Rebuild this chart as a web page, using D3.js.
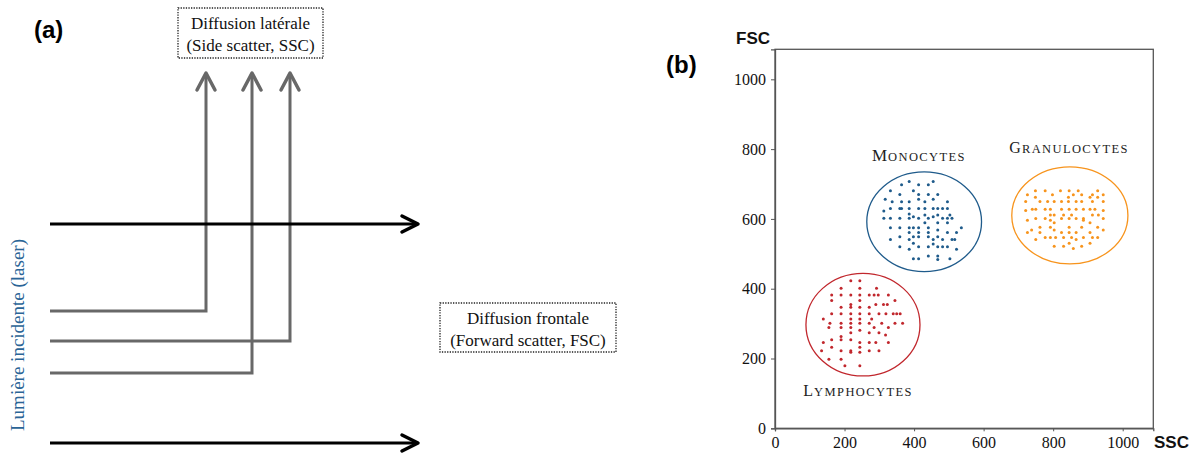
<!DOCTYPE html>
<html>
<head>
<meta charset="utf-8">
<script src="https://cdn.jsdelivr.net/npm/d3@7"></script>
<style>
  html, body { margin: 0; padding: 0; background: #fff; }
  svg { display: block; }
  .serif { font-family: "Liberation Serif", "Times New Roman", Times, serif; }
  .sans { font-family: "Liberation Sans", Arial, Helvetica, sans-serif; }
</style>
</head>
<body>
<svg id="chart" width="1197" height="454"></svg>
<script>
// ---------- DATA ----------
const xTicks = [0, 200, 400, 600, 800, 1000];
const yTicks = [0, 200, 400, 600, 800, 1000];

// [SSC, FSC]
const monocytes = [
  [364,698],[386,707],[413,698],[441,698],[455,707],
  [332,681],[359,670],[398,681],[413,670],[441,670],[468,670],
  [317,656],[337,649],[364,649],[386,649],[413,656],[431,649],[455,656],[496,649],
  [313,623],[332,630],[359,630],[364,630],[386,630],[413,630],[431,630],[455,630],[468,630],[482,630],[496,630],
  [386,614],[398,606],[431,611],[455,606],[468,611],[503,611],
  [313,602],[332,602],[359,602],[386,602],[413,602],[441,602],[482,602],[496,602],[509,602],
  [431,589],[468,589],[496,589],
  [332,575],[359,575],[386,575],[398,575],[413,575],[441,575],[536,575],[468,568],
  [386,561],[413,561],[441,561],[496,561],[522,561],
  [359,549],[398,549],[413,549],[441,549],[468,549],
  [332,541],[386,541],[455,541],[482,541],[509,541],[517,541],
  [398,530],[455,528],
  [359,520],[413,520],[441,520],[468,520],[482,520],[496,520],
  [386,513],[522,513],
  [441,494],[468,494],[468,484],
  [398,486],[413,486],[503,486]
];

const granulocytes = [
  [749,681],[777,681],[821,681],[846,681],[872,681],[928,681],
  [726,669],[798,669],[858,669],[882,669],[913,669],[944,669],
  [749,662],[844,662],[906,662],[928,662],
  [721,650],[762,650],[784,650],[803,650],[824,650],[844,650],[866,650],[882,650],[913,650],[944,650],
  [740,628],[750,628],[777,628],[792,628],[824,628],[846,628],[866,628],[887,628],[906,628],[920,628],
  [721,624],[944,624],
  [792,611],[803,611],[830,611],[853,611],[913,611],[930,611],
  [750,601],[777,601],[824,601],[846,601],[866,601],[887,601],[944,601],
  [726,596],[792,596],[887,596],
  [803,589],[906,589],
  [762,576],[792,576],[846,576],[882,576],[928,576],
  [738,568],[803,568],[944,568],
  [726,561],[762,561],[824,561],[846,561],[866,561],[906,561],
  [777,547],[792,547],[807,547],[830,547],[853,547],[887,547],[913,547],[928,547],
  [750,541],[866,541],
  [846,530],[906,530],
  [803,522],[830,522],[882,522],
  [858,515]
];

const lymphocytes = [
  [218,423],[244,423],
  [190,401],[244,401],[292,401],
  [163,382],[190,382],[218,382],[244,382],[271,382],[285,382],[297,382],[326,382],
  [163,366],[244,366],[345,366],
  [218,355],[290,355],[312,355],[323,355],
  [190,347],[218,347],[244,347],[271,347],
  [163,328],[190,328],[218,328],[244,328],[271,328],[299,328],[319,328],[340,328],[350,328],[360,328],
  [139,313],[218,313],[244,313],[278,313],
  [158,301],[190,301],[218,301],[244,301],[271,301],[307,301],[345,301],[367,301],
  [155,289],[190,289],[218,289],[285,289],[326,289],
  [244,281],
  [218,274],[271,274],[299,274],
  [318,267],[190,263],
  [163,254],[190,254],[218,254],
  [139,246],[244,246],[271,246],[290,246],[326,246],
  [163,232],[244,232],
  [134,222],[190,222],[218,222],[271,222],[299,222],
  [218,218],[244,218],
  [155,198],[190,198],
  [201,179],[244,179]
];

// ellipse centre / radii (SSC, FSC units)
const clusterNames   = ["Monocytes", "Granulocytes", "Lymphocytes"];
const clusterCenters = [[429, 592], [848, 610], [253, 297]];
const clusterRadii   = [[165, 143], [167, 139], [164, 147]];
const clusterColors  = ["#1f5b8b", "#f7941d", "#c1272d"];

// ---------- DRAW ----------
const svg = d3.select("#chart");

// ===== Panel (a): schematic =====
const a = svg.append("g");
a.append("text").attr("class", "sans").attr("x", 34).attr("y", 38)
  .attr("font-weight", "bold").attr("font-size", 24)
  .text("(a)");

const gray = "#686868";
// scattered (side) light paths: start y, corner x
const sidePaths = [[311, 206], [373, 252], [341, 290]];
sidePaths.forEach(([y0, x1]) => {
  a.append("path")
    .attr("d", `M50,${y0} H${x1} V74`)
    .attr("fill", "none").attr("stroke", gray).attr("stroke-width", 3);
  a.append("path")
    .attr("d", `M${x1 - 9},90 L${x1},73 L${x1 + 9},90`)
    .attr("fill", "none").attr("stroke", gray).attr("stroke-width", 3.5)
    .attr("stroke-linecap", "round").attr("stroke-linejoin", "round");
});

// incident / forward light (black arrows)
[224, 443].forEach(y => {
  a.append("line").attr("x1", 50).attr("x2", 416).attr("y1", y).attr("y2", y)
    .attr("stroke", "#000").attr("stroke-width", 3.2);
  a.append("path")
    .attr("d", `M402,${y - 8} L418,${y} L402,${y + 8}`)
    .attr("fill", "none").attr("stroke", "#000").attr("stroke-width", 3.5)
    .attr("stroke-linecap", "round").attr("stroke-linejoin", "round");
});

function dottedBox(x, y, w, h, lines) {
  a.append("rect").attr("x", x).attr("y", y).attr("width", w).attr("height", h)
    .attr("fill", "#fff").attr("stroke", "#222").attr("stroke-width", 1.3)
    .attr("stroke-dasharray", "1.3,1.3");
  lines.forEach((t, i) => {
    a.append("text").attr("class", "serif").attr("x", x + w / 2).attr("y", y + 21 + i * 21.5)
      .attr("text-anchor", "middle").attr("font-size", 17)
      .attr("fill", "#111").text(t);
  });
}
dottedBox(178, 8, 145, 50, ["Diffusion latérale", "(Side scatter, SSC)"]);
dottedBox(440, 303, 176, 49, ["Diffusion frontale", "(Forward scatter, FSC)"]);

a.append("text").attr("class", "serif")
  .attr("transform", "translate(24,335) rotate(-90)")
  .attr("text-anchor", "middle").attr("font-size", 19)
  .attr("fill", "#2a6496").text("Lumière incidente (laser)");

// ===== Panel (b): scatter =====
const x = d3.scaleLinear().domain([0, 1088]).range([775, 1153.3]);
const y = d3.scaleLinear().domain([0, 1086]).range([428.3, 49.3]);

svg.append("text").attr("class", "sans").attr("x", 666).attr("y", 73)
  .attr("font-weight", "bold").attr("font-size", 24)
  .text("(b)");

const b = svg.append("g");
// frame
b.append("rect").attr("x", x(0)).attr("y", y(1086))
  .attr("width", x(1088) - x(0)).attr("height", y(0) - y(1086))
  .attr("fill", "none").attr("stroke", "#555").attr("stroke-width", 1.3);

const xAxis = b.append("g").attr("transform", `translate(0,${y(0)})`)
  .call(d3.axisBottom(x).tickValues(xTicks).tickSize(3).tickFormat(d3.format("d")));
const yAxis = b.append("g").attr("transform", `translate(${x(0)},0)`)
  .call(d3.axisLeft(y).tickValues(yTicks).tickSize(4).tickFormat(d3.format("d")));
[xAxis, yAxis].forEach(g => {
  g.attr("font-family", null).attr("font-size", null);
  g.select(".domain").attr("stroke", "#555").attr("stroke-width", 1.3);
  g.selectAll(".tick line").attr("stroke", "#555");
  g.selectAll("text").attr("class", "serif").attr("font-size", 16).attr("fill", "#111");
});
xAxis.selectAll("text").attr("dy", null).attr("y", 20);
yAxis.selectAll("text").attr("x", -9).attr("dy", "0.33em");

b.append("text").attr("class", "sans").attr("x", 736).attr("y", 44)
  .attr("font-weight", "bold").attr("font-size", 17)
  .attr("fill", "#111").text("FSC");
b.append("text").attr("class", "sans").attr("x", 1154).attr("y", 448)
  .attr("font-weight", "bold").attr("font-size", 17)
  .attr("fill", "#111").text("SSC");

// ellipses
clusterCenters.forEach((c, i) => {
  b.append("ellipse")
    .attr("cx", x(c[0])).attr("cy", y(c[1]))
    .attr("rx", x(clusterRadii[i][0]) - x(0))
    .attr("ry", y(0) - y(clusterRadii[i][1]))
    .attr("fill", "none").attr("stroke", clusterColors[i]).attr("stroke-width", 1.3);
});

// points
[monocytes, granulocytes, lymphocytes].forEach((pts, i) => {
  b.append("g").selectAll("circle").data(pts).join("circle")
    .attr("cx", d => x(d[0])).attr("cy", d => y(d[1]))
    .attr("r", 1.5).attr("fill", clusterColors[i]);
});

// small-caps labels
const labelPos = [[414, 767, 17], [846, 788, 16], [239, 93, 16]];
clusterNames.forEach((name, i) => {
  const [lx, ly, big] = labelPos[i];
  const t = b.append("text").attr("class", "serif").attr("x", x(lx)).attr("y", y(ly))
    .attr("text-anchor", "middle").attr("fill", "#222");
  t.append("tspan").attr("font-size", big).attr("letter-spacing", 1)
    .text(name[0].toUpperCase());
  t.append("tspan").attr("font-size", 12.5).attr("letter-spacing", 1.4)
    .text(name.slice(1).toUpperCase());
});
</script>
</body>
</html>
